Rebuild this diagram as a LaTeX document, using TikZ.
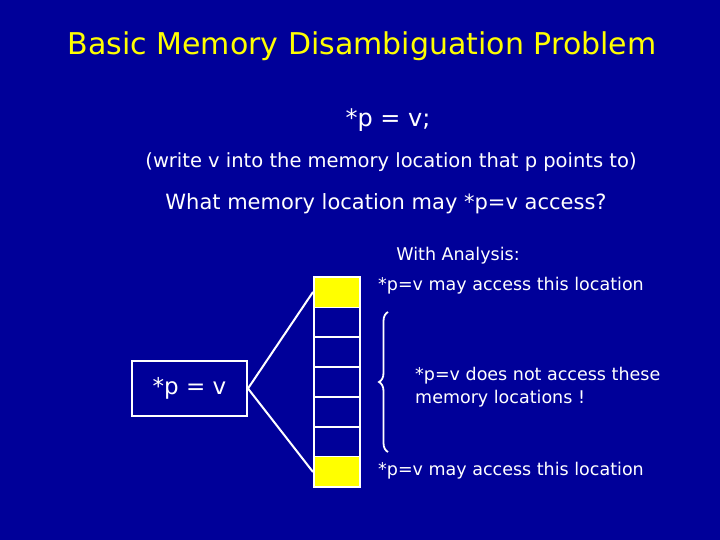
\documentclass[tikz,border=0pt]{standalone}
\usepackage{fontspec}
\setmainfont{DejaVu Sans}
\usetikzlibrary{decorations.pathreplacing}
\definecolor{bg}{RGB}{0,0,153}
\definecolor{ttl}{RGB}{255,255,0}
\begin{document}
\begin{tikzpicture}[x=1pt,y=-1pt,
  txt/.style={text=white,inner sep=0pt},
  cell/.style={draw=white,line width=2pt,minimum width=46pt,minimum height=30pt,inner sep=0pt},
  wl/.style={draw=white,line width=2pt}]
\fill[bg] (0,0) rectangle (720,540);
\useasboundingbox (0,0) rectangle (720,540);
\node[inner sep=0pt,text=ttl,font=\fontsize{30}{36}\selectfont] (title) at (362,46) {Basic Memory Disambiguation Problem};
\node[txt,font=\fontsize{24}{30}\selectfont] (s1) at (388,120) {*p = v;};
\node[txt,font=\fontsize{19.5}{23}\selectfont] (s2) at (391,162) {(write v into the memory location that p points to)};
\node[txt,font=\fontsize{21}{26}\selectfont] (s3) at (386,204) {What memory location may *p=v access?};
\node[txt,font=\fontsize{17.5}{22}\selectfont] (wa) at (458,256) {With Analysis:};
\node[txt,font=\fontsize{17.5}{22}\selectfont,anchor=west] (t1) at (378,286) {*p=v may access this location};
\node[txt,font=\fontsize{17.5}{22}\selectfont,anchor=west,align=left] (t2) at (415,387) {*p=v does not access these\\[1pt]memory locations !};
\node[txt,font=\fontsize{17.5}{22}\selectfont,anchor=west] (t3) at (378,471) {*p=v may access this location};
\node[wl,minimum width=115pt,minimum height=55pt,inner sep=0pt,text=white,font=\fontsize{23}{28}\selectfont] (box) at (189.5,388.5) {*p = v};
\foreach \i in {0,...,6}{
  \node[cell] (c\i) at (337,292+30*\i) {};
}
\fill[ttl] (c0.north west) ++(2,2) rectangle ([shift={(-2,-1)}]c0.south east);
\fill[ttl] (c6.north west) ++(2,1) rectangle ([shift={(-2,-2)}]c6.south east);
\draw[white,line width=2pt] (box.east) -- (c0.west);
\draw[white,line width=2pt] (box.east) -- (c6.west);
\coordinate (b1) at (388,312);
\coordinate (b2) at (388,452);
\draw[white,line width=1.8pt,decorate,decoration={brace,amplitude=9pt,mirror}] (b1) -- (b2);
\end{tikzpicture}
\end{document}
